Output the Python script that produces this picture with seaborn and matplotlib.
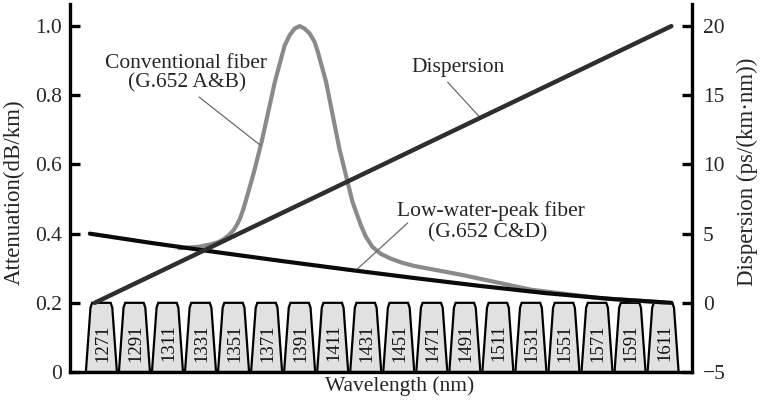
import matplotlib
matplotlib.use("Agg")
import matplotlib.pyplot as plt
import seaborn as sns
import pandas as pd

# CWDM channel centre wavelengths (nm)
channels = [1271, 1291, 1311, 1331, 1351, 1371, 1391, 1411, 1431,
            1451, 1471, 1491, 1511, 1531, 1551, 1571, 1591, 1611]
channel_labels = ["1271", "1291", "1311", "1331", "1351", "1371", "1391", "1411", "1431",
                  "1451", "1471", "1491", "1511", "1531", "1551", "1571", "1591", "1611"]

# Low-water-peak fiber attenuation (dB/km)
lwp_wl = [1264, 1300, 1340, 1380, 1420, 1460, 1500, 1540, 1580, 1616]
lwp_att = [0.400, 0.374, 0.347, 0.321, 0.296, 0.272, 0.249, 0.228, 0.211, 0.200]

# Conventional fiber attenuation with the water peak (dB/km)
conv_wl = [1318, 1330, 1338, 1342, 1345, 1348, 1351, 1353, 1355, 1357, 1359, 1362,
           1364, 1368, 1372, 1376, 1380, 1382, 1385, 1388, 1391, 1394, 1397, 1400,
           1402, 1407, 1411, 1415, 1419, 1423, 1428, 1431, 1435, 1440, 1446, 1453,
           1460, 1490, 1531, 1572, 1612]
conv_att = [0.358, 0.362, 0.370, 0.376, 0.384, 0.395, 0.410, 0.425, 0.445, 0.472, 0.505, 0.555,
            0.590, 0.666, 0.752, 0.839, 0.910, 0.945, 0.974, 0.993, 1.000, 0.993, 0.979, 0.955,
            0.926, 0.839, 0.743, 0.647, 0.569, 0.492, 0.425, 0.392, 0.362, 0.342, 0.328, 0.316,
            0.307, 0.280, 0.238, 0.214, 0.201]

# Chromatic dispersion (ps/(km·nm))
disp_wl = [1267, 1616]
disp_val = [0.0, 20.0]

att_ticks = [0, 0.2, 0.4, 0.6, 0.8, 1.0]
att_ticklabels = ["0", "0.2", "0.4", "0.6", "0.8", "1.0"]
disp_ticks = [-5, 0, 5, 10, 15, 20]
disp_ticklabels = ["\u22125", "0", "5", "10", "15", "20"]

sns.set_theme(style="white")
plt.rcParams["font.family"] = ["Liberation Serif", "DejaVu Serif"]

fs_note = 15.5
fs_tick = 15.5
fs_label = 16.5
fig = plt.figure(figsize=(7.6, 4.09), dpi=100)
ax = fig.add_axes([70 / 760, 1 - 372 / 409, 622 / 760, 368 / 409])
ax2 = ax.twinx()

ax.set_xlim(1252, 1628.5)
ax.set_ylim(0, 1.064)
ax2.set_ylim(-5, 21.6)

# channel passbands
half_bot, half_shoulder, half_top = 9.4, 6.6, 5.6
for c, lab in zip(channels, channel_labels):
    xs = [c - half_bot, c - half_shoulder, c - half_top, c + half_top, c + half_shoulder, c + half_bot]
    ys = [0, 0.186, 0.2, 0.2, 0.186, 0]
    ax.fill(xs, ys, facecolor="#e1e1e1", edgecolor="black", linewidth=1.6, zorder=2)
    ax.text(c + 0.8, 0.084, lab, rotation=90, ha="center", va="center",
            fontsize=13.5, color="#111111", zorder=3)

conv_df = pd.DataFrame({"wl": conv_wl, "att": conv_att})
lwp_df = pd.DataFrame({"wl": lwp_wl, "att": lwp_att})
disp_df = pd.DataFrame({"wl": disp_wl, "disp": disp_val})

sns.lineplot(data=conv_df, x="wl", y="att", ax=ax, color="#8a8a8a", linewidth=3.0,
             zorder=4, legend=False)
sns.lineplot(data=lwp_df, x="wl", y="att", ax=ax, color="#0a0a0a", linewidth=3.0,
             zorder=5, legend=False)
sns.lineplot(data=disp_df, x="wl", y="disp", ax=ax2, color="#2e2e2e", linewidth=3.2,
             legend=False)

# annotations with leader lines
ax.text(1322.2, 0.893, "Conventional fiber", ha="center", va="center", fontsize=fs_note)
ax.text(1322.8, 0.835, "(G.652 A&B)", ha="center", va="center", fontsize=fs_note)
ax.plot([1330.1, 1367.1], [0.795, 0.656], color="#6a6a6a", linewidth=0.9, zorder=6)

ax.text(1486.7, 0.879, "Dispersion", ha="center", va="center", fontsize=fs_note)
ax.plot([1480.6, 1500.0], [0.838, 0.737], color="#6a6a6a", linewidth=0.9, zorder=6)

ax.text(1506.5, 0.465, "Low-water-peak fiber", ha="center", va="center", fontsize=fs_note)
ax.text(1504.7, 0.402, "(G.652 C&D)", ha="center", va="center", fontsize=fs_note)
ax.plot([1456.4, 1426.0], [0.431, 0.298], color="#6a6a6a", linewidth=0.9, zorder=6)

# axes styling
for a in (ax, ax2):
    a.spines["top"].set_visible(False)
    a.set_facecolor("none")
ax.spines["right"].set_visible(False)
ax2.spines["left"].set_visible(False)
ax2.spines["bottom"].set_visible(False)
for sp in ("left", "bottom"):
    ax.spines[sp].set_linewidth(2.4)
    ax.spines[sp].set_color("black")
ax2.spines["right"].set_linewidth(2.4)
ax2.spines["right"].set_color("black")

ax.set_xticks([])
ax.set_yticks(att_ticks)
ax.set_yticklabels(att_ticklabels)
ax.tick_params(axis="y", direction="in", length=7, width=2.4, color="black",
               labelsize=fs_tick, pad=6, left=True)
ax2.set_yticks(disp_ticks)
ax2.set_yticklabels(disp_ticklabels)
ax2.tick_params(axis="y", direction="in", length=7, width=2.4, color="black",
                labelsize=fs_tick, pad=8, right=True)

ax.set_xlabel("Wavelength (nm)", fontsize=fs_note)
ax.xaxis.set_label_coords((400 - 70) / 622, (372 - 386) / 368)
ax.xaxis.label.set_va("center")
ax.set_ylabel("Attenuation(dB/km)", fontsize=fs_label)
ax.yaxis.set_label_coords((14 - 70) / 622, (372 - 192) / 368)
ax.yaxis.label.set_va("center")
ax2.set_ylabel("Dispersion (ps/(km\u00b7nm))", fontsize=fs_label, rotation=90)
ax2.yaxis.set_label_coords((747 - 70) / 622, (372 - 172) / 368)
ax2.yaxis.label.set_va("center")

fig.savefig("out.png", dpi=100, facecolor="white")
